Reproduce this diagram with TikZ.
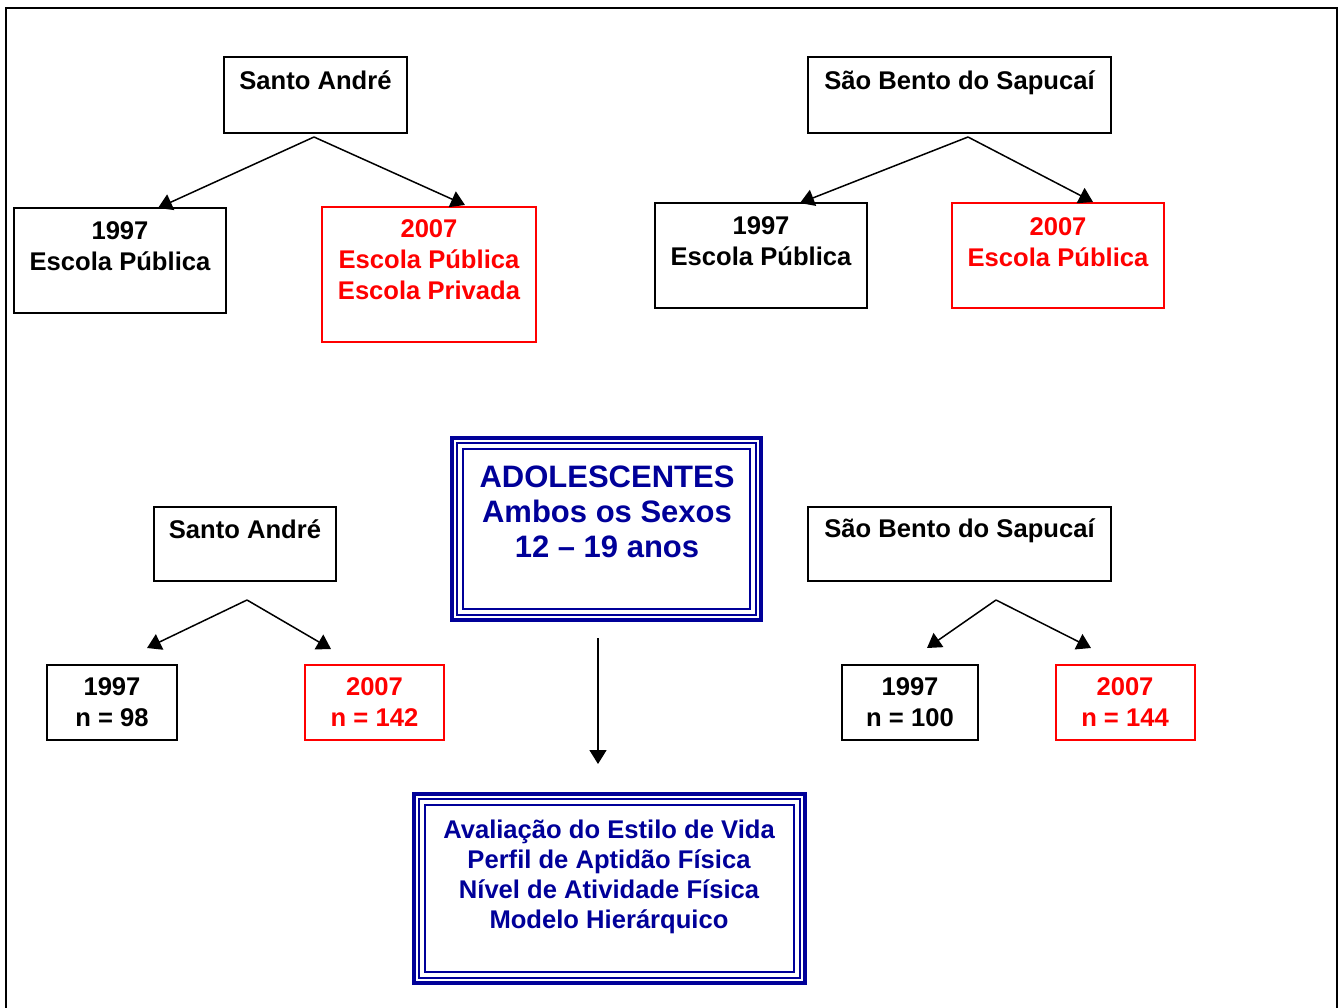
\documentclass[tikz,border=0pt]{standalone}
\usepackage{fontspec}
\setmainfont{Liberation Sans}
\usetikzlibrary{positioning,arrows.meta,calc}
\definecolor{navy}{RGB}{0,0,153}
\definecolor{vermelho}{RGB}{255,0,0}
\newcommand{\moldura}[1]{%
  \draw[navy,line width=0.65pt] ($(#1.north west)+(5,5)$) rectangle ($(#1.south east)+(-5,-5)$);
  \draw[navy,line width=1.25pt] ($(#1.north west)+(11,11)$) rectangle ($(#1.south east)+(-11,-11)$);}

\begin{document}
\begin{tikzpicture}[
    x=0.5pt, y=-0.5pt,
    box/.style={draw,line width=1pt,inner sep=0pt,outer sep=0pt},
    redbox/.style={box,draw=vermelho,line width=0.8pt},
    dbl/.style={draw=navy,line width=2pt,inner sep=0pt,outer sep=0pt},
    sz/.style 2 args={minimum width=#1*0.5pt,minimum height=#2*0.5pt},
    lbl/.style={font=\fontsize{12.8}{15.5}\selectfont\bfseries,align=center,inner sep=0pt},
    redlbl/.style={lbl,text=vermelho},
    big/.style={font=\fontsize{15.5}{17.5}\selectfont\bfseries,align=center,inner sep=0pt,text=navy},
    arrow/.style={line width=0.75pt,-{Triangle[length=7pt,width=8.5pt]}}
]
\useasboundingbox (0,0) rectangle (1343,1007);

% moldura externa
\draw[line width=1.4pt] (6,1015) -- (6,8) -- (1337,8) -- (1337,1015);

% coleta 1997 / 2007
\node[box,sz={183}{76}] (sa1) at (315.5,95) {};
\node[lbl] (sa1-t) at (315.5,80) {Santo André};
\node[box,sz={303}{76}] (sb1) at (959.5,95) {};
\node[lbl] (sb1-t) at (959.5,83) {São Bento do Sapucaí};

\node[box,sz={212}{105}] (sa97) at (120,260.5) {};
\node[lbl] (sa97-t) at (120,246.5) {1997\\Escola Pública};
\node[redbox,sz={214}{135}] (sa07) at (429,274.5) {};
\node[redlbl] (sa07-t) at (429,260) {2007\\Escola Pública\\Escola Privada};
\node[box,sz={212}{105}] (sb97) at (761,255.5) {};
\node[lbl] (sb97-t) at (761,241) {1997\\Escola Pública};
\node[redbox,sz={212}{105}] (sb07) at (1058,255.5) {};
\node[redlbl] (sb07-t) at (1058,242) {2007\\Escola Pública};

\coordinate (sa1-fork) at ($(sa1.south)+(-1.5,4)$);
\coordinate (sb1-fork) at ($(sb1.south)+(8.5,4)$);
\draw[arrow] (sa1-fork) -- ($(sa97.north)+(38,0)$);
\draw[arrow] (sa1-fork) -- ($(sa07.north)+(36,-2)$);
\draw[arrow] (sb1-fork) -- ($(sb97.north)+(39,0)$);
\draw[arrow] (sb1-fork) -- ($(sb07.north)+(35,-1)$);

% amostra
\node[dbl,sz={309}{182}] (adol) at (606.5,529) {};
\moldura{adol}
\node[big] (adol-t) at (607,512) {ADOLESCENTES\\Ambos os Sexos\\12 – 19 anos};

\node[box,sz={182}{74}] (sa2) at (245,544) {};
\node[lbl] (sa2-t) at (245,529) {Santo André};
\node[box,sz={303}{74}] (sb2) at (959.5,544) {};
\node[lbl] (sb2-t) at (959.5,531) {São Bento do Sapucaí};

\node[box,sz={130}{75}] (n98) at (112,702.5) {};
\node[lbl] (n98-t) at (112,702) {1997\\n = 98};
\node[redbox,sz={139}{75}] (n142) at (374.5,702.5) {};
\node[redlbl] (n142-t) at (374.5,702) {2007\\n = 142};
\node[box,sz={136}{75}] (n100) at (910,702.5) {};
\node[lbl] (n100-t) at (910,702) {1997\\n = 100};
\node[redbox,sz={139}{75}] (n144) at (1125.5,702.5) {};
\node[redlbl] (n144-t) at (1125,702) {2007\\n = 144};

\coordinate (sa2-fork) at ($(sa2.south)+(2,19)$);
\coordinate (sb2-fork) at ($(sb2.south)+(36.5,19)$);
\draw[arrow] (sa2-fork) -- ($(n98.north)+(35,-17)$);
\draw[arrow] (sa2-fork) -- ($(n142.north)+(-43.5,-16)$);
\draw[arrow] (sb2-fork) -- ($(n100.north)+(17,-17)$);
\draw[arrow] (sb2-fork) -- ($(n144.north)+(-34.5,-17)$);

% variaveis
\node[dbl,sz={391}{189}] (aval) at (609.5,888.5) {};
\moldura{aval}
\node[lbl,text=navy,font=\fontsize{12.8}{15}\selectfont\bfseries] (aval-t) at (609,877)
    {Avaliação do Estilo de Vida\\Perfil de Aptidão Física\\Nível de Atividade Física\\Modelo Hierárquico};

\draw[arrow] ($(adol.south)+(-8.5,18)$) -- ($(aval.north)+(-11.5,-30)$);

\end{tikzpicture}
\end{document}
